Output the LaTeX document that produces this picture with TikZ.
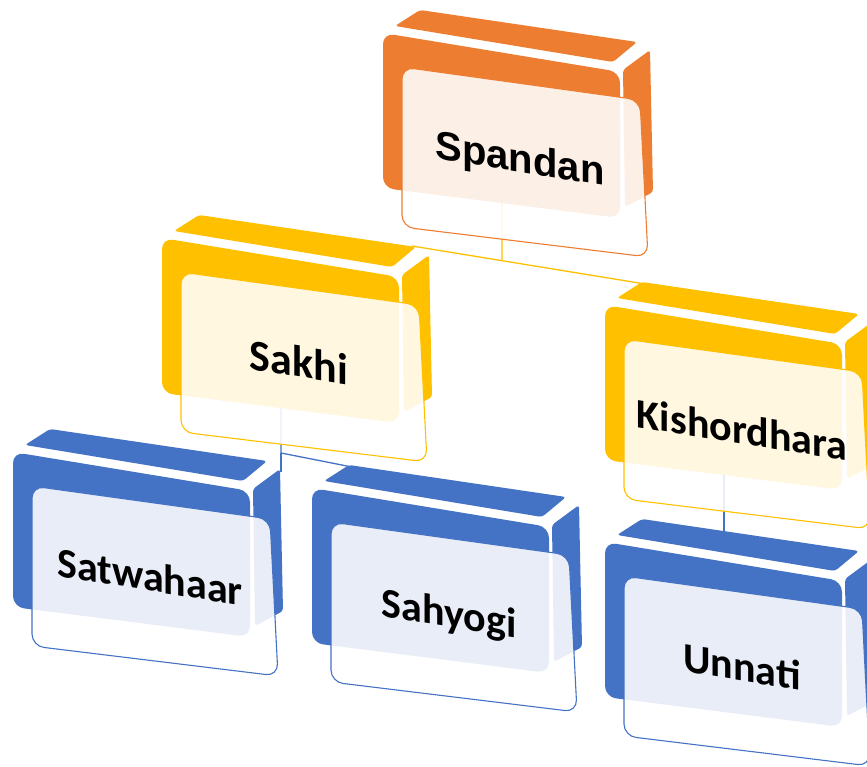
\documentclass[tikz,border=0pt]{standalone}
\usepackage{fontspec}
\newfontfamily\carl{Carlito}
\newfontfamily\arl{Liberation Sans}
\usetikzlibrary{calc}
\definecolor{orangeA}{HTML}{ED7D31}
\definecolor{goldA}{HTML}{FFC000}
\definecolor{blueA}{HTML}{4472C4}
\pgfdeclarelayer{bg}
\pgfsetlayers{bg,main}
\tikzset{
  panel/.style={fill=white, fill opacity=0.88, draw=#1, line width=1.1pt, rounded corners=12pt},
  lbl/.style={text=black, yslant=-0.16, anchor=base, inner sep=0pt},
  conn/.style={draw=#1, line width=1.3pt},
  pics/box3d/.style n args={3}{code={
    \fill[#1, rounded corners=3pt] (37,-23) -- (254,9) -- (230,29) -- (12,-7) -- cycle;
    \fill[#1, rounded corners=3pt] (240,37) -- (267,17) -- (270,159) -- (242,174) -- cycle;
    \fill[#1, rounded corners=11pt] (0,0) -- (237,39) -- (237,185) -- (0,155) -- cycle;
    \path[panel=#1] (19,34) -- (257,67) -- (265,224) -- (19,194) -- cycle;
    \node[lbl, font=#2] (-text) at (137,139) {#3};
    \coordinate (-bot) at (119,170);
    \coordinate (-topL) at (40,-21);
    \coordinate (-topR) at (250,8);
    \coordinate (-topC) at (119,-11);
    \coordinate (-side) at (268,20);
  }}
}
\begin{document}
\begin{tikzpicture}[x=1pt,y=-1pt]
\useasboundingbox (0,0) rectangle (867,767);
\pic (sp) at (383,33) {box3d={orangeA}{\arl\bfseries\fontsize{40}{48}\selectfont}{Spandan}};
\pic (sa) at (162,238) {box3d={goldA}{\carl\bfseries\fontsize{44}{52}\selectfont}{Sakhi}};
\pic (ki) at (605,305) {box3d={goldA}{\carl\bfseries\fontsize{42}{50}\selectfont}{Kishordhara}};
\pic (sw) at (13,452) {box3d={blueA}{\carl\bfseries\fontsize{42}{50}\selectfont}{Satwahaar}};
\pic (sh) at (312,488) {box3d={blueA}{\carl\bfseries\fontsize{42}{50}\selectfont}{Sahyogi}};
\pic (un) at (605,542) {box3d={blueA}{\carl\bfseries\fontsize{42}{50}\selectfont}{Unnati}};
\begin{pgfonlayer}{bg}
  \coordinate (j1) at ($(sa-topR)!0.386!(ki-topL)$);
  \draw[conn=goldA] (sa-topR) -- (j1) -- (ki-topL);
  \draw[conn=goldA] (sp-bot) -- (j1);
  \coordinate (j2) at ($(sa-bot)+(0,45)$);
  \draw[conn=blueA] (sa-bot) -- (j2) -- (sh-topL);
  \draw[conn=blueA] (j2) -- (sw-side);
  \draw[conn=blueA] (ki-bot) -- (un-topC);
\end{pgfonlayer}
\end{tikzpicture}
\end{document}
